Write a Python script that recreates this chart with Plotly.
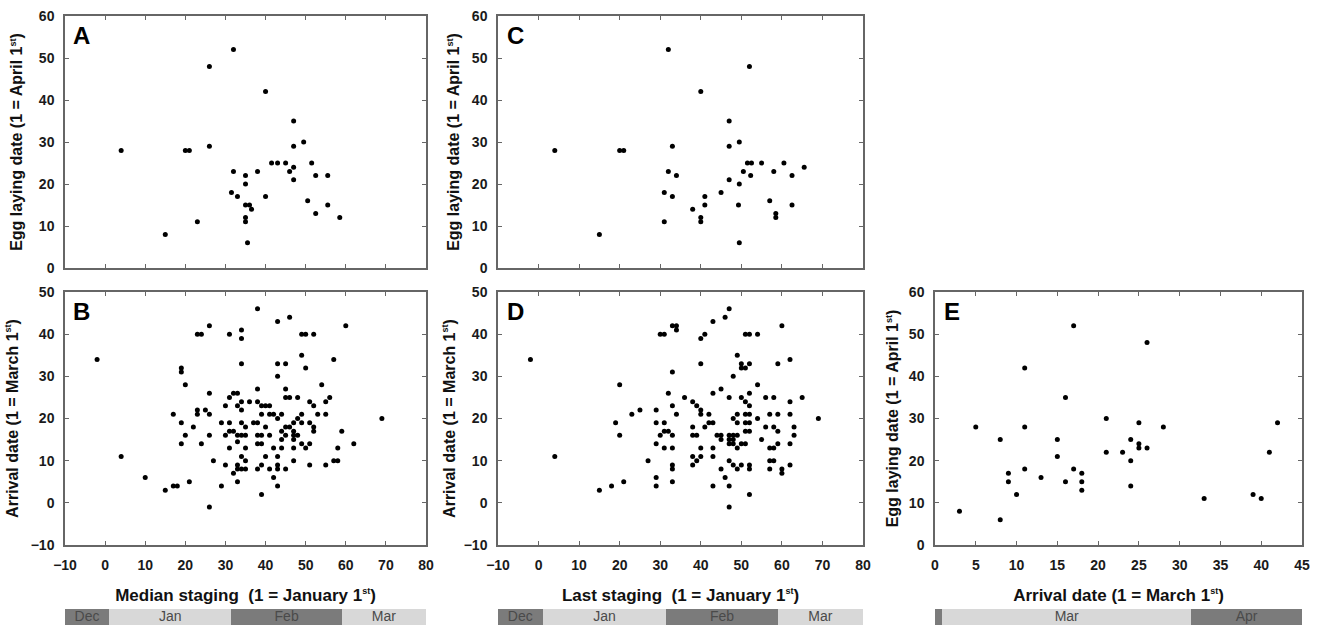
import plotly.graph_objects as go

# ---------------- data ----------------
# Panel A: median staging (day, 1 = Jan 1st) vs egg laying date (1 = April 1st)
a_points = [(4, 28), (15, 8), (20, 28), (21, 28), (23, 11), (26, 48), (26, 29), (32, 52), (32, 23),
            (31.5, 18), (33, 17), (35, 22), (35, 20), (35, 15), (36, 15), (35, 12), (35, 11), (35.5, 6),
            (36.5, 14), (38, 23), (40, 42), (40, 17), (41.5, 25), (43, 25), (45, 25), (46, 23), (47, 35),
            (47, 29), (47, 24), (47, 21), (49.5, 30), (50.5, 16), (51.5, 25), (52.5, 22), (52.5, 13),
            (55.5, 22), (55.5, 15), (58.5, 12)]

# Panel C: last staging vs egg laying date
c_points = [(4, 28), (15, 8), (20, 28), (21, 28), (31, 18), (31, 11), (32, 52), (32, 23), (33, 29),
            (33, 17), (34, 22), (38, 14), (40, 42), (40, 12), (40, 11), (41, 15), (41, 17), (45, 18),
            (47, 35), (47, 29), (47, 21), (49.5, 30), (49.5, 20), (49.3, 15), (49.5, 6), (50.5, 23),
            (51.5, 25), (52.5, 25), (52, 48), (52.3, 22), (55, 25), (57, 16), (58, 23), (58.5, 13),
            (58.5, 12), (60.5, 25), (62.5, 22), (62.5, 15), (65.5, 24)]

# Panel B: median staging vs arrival date (1 = March 1st)
b_points = [(-2, 34), (4, 11), (10, 6), (19, 32), (19, 31), (20, 28), (23, 40), (24, 40), (26, 42),
            (26, 26), (31, 40), (34, 41), (34, 39), (34, 33), (38, 46), (43, 43), (46, 44), (43, 33),
            (45, 33), (43, 30), (49, 35), (49, 40), (50, 40), (52, 40), (50, 32), (57, 34), (60, 42),
            (54, 28), (56, 25), (45, 27), (38, 27), (32, 26), (33, 26),
            (31, 25), (45, 25), (46, 25), (48, 25),
            (34, 24), (36, 24), (38, 24), (51, 24), (55, 24),
            (30, 23), (33, 23), (39, 23), (40, 23), (41, 23), (52, 23),
            (23, 22), (25, 22), (34, 22),
            (17, 21), (23, 21), (26, 21), (39, 21), (41, 21), (42, 21), (44, 21), (49, 21), (53, 21), (55, 21),
            (43, 20), (48, 20), (69, 20),
            (19, 19), (29, 19), (31, 19), (34, 19), (37, 19), (38, 19), (47, 19), (49, 19), (51, 19),
            (22, 18), (35, 18), (40, 18), (45, 18), (46, 18), (52, 18),
            (31, 17), (32, 17), (44, 17), (47, 17), (52, 17), (59, 17),
            (20, 16), (26, 16), (30, 16), (33, 16), (34, 16), (35, 16), (38, 16), (39, 16), (41, 16),
            (45, 16), (47, 16), (48, 16),
            (44, 15), (47, 15),
            (19, 14), (24, 14), (33, 14.5), (38, 14), (39, 14), (49, 14), (51, 14), (62, 14),
            (31, 13), (35, 13), (42, 13), (44, 13), (47, 13), (50, 13), (58, 13),
            (34, 11), (40, 11), (43, 11),
            (27, 10), (35, 10), (47, 10), (57, 10), (58, 10),
            (30, 9), (33, 9), (39, 9), (43, 9), (51, 9), (55, 9),
            (33, 8), (34, 8), (35, 8), (38, 8), (41, 8), (43, 8), (45, 8),
            (32, 7), (42, 6), (21, 5), (33, 5), (17, 4), (18, 4), (29, 4), (43, 4),
            (15, 3), (39, 2), (26, -1)]

# Panel D: last staging vs arrival date
d_points = [(-2, 34), (4, 11), (20, 28), (30, 40), (31, 40), (33, 42), (34, 42), (34, 41), (33, 31),
            (40, 33), (40, 39), (41, 40), (43, 43), (46, 44), (47, 46), (49, 35), (50, 33), (50, 32),
            (51, 32), (52, 33), (48, 30), (51, 40), (52, 40), (54, 40), (54, 28), (59, 33), (60, 42),
            (62, 34), (65, 25), (69, 20), (43, 26), (45, 27), (36, 25), (32, 26),
            (15, 3), (18, 4), (21, 5), (19, 19), (20, 16), (23, 21), (25, 22), (27, 10), (29, 22),
            (29, 19), (29, 14), (29, 6), (29, 4), (30, 16), (31, 13), (31, 19), (31, 17), (32, 17),
            (33, 23), (33, 16), (33, 13), (33, 9), (33, 8), (33, 5), (34, 21), (38, 24), (39, 23),
            (38, 18), (38, 16), (39, 16), (38, 11), (38, 9), (39, 10), (40, 22), (40, 21), (40, 13),
            (40, 11), (41, 18), (42, 21), (42, 19), (43, 19), (43, 13), (43, 11), (43, 4), (44, 16),
            (45, 16), (45, 15), (45, 8), (46, 6), (47, 25), (47, 16), (48, 16), (49, 16), (47, 15),
            (48, 15), (47, 14), (48, 14), (47, 10), (47, 4), (47, -1), (48, 9), (48, 20), (49, 21),
            (49, 19), (49, 13), (49, 8), (50, 25), (51, 24), (50, 9), (50, 14), (51, 14), (51, 19),
            (52, 19), (51, 17), (52, 17), (51, 21), (52, 21), (52, 26), (52, 23), (52, 9), (52, 8),
            (52, 2), (54, 20), (55, 15), (56, 25), (58, 25), (56, 18), (57, 21), (59, 21), (57, 13),
            (58, 13), (57, 10), (58, 10), (57, 8), (58, 18), (59, 17), (59, 14), (60, 8), (60, 7),
            (62, 24), (62, 21), (62, 14), (62, 9), (63, 18), (63, 16)]

# Panel E: arrival date (1 = March 1st) vs egg laying date (1 = April 1st)
e_points = [(17, 52), (26, 48), (11, 42), (16, 35), (5, 28), (8, 25), (9, 17), (9, 15), (10, 12),
            (11, 28), (11, 18), (13, 16), (15, 25), (15, 21), (16, 15), (17, 18), (18, 17), (18, 15),
            (18, 13), (21, 30), (21, 22), (23, 22), (24, 25), (24, 20), (24, 14), (25, 29), (25, 24),
            (25, 23), (26, 23), (28, 28), (33, 11), (39, 12), (40, 11), (41, 22), (42, 29), (3, 8), (8, 6)]

# month bands below the x axes (start, end in axis units)
staging_months = ["Dec", "Jan", "Feb", "Mar"]
staging_starts = [-10, 1, 31.5, 59]
staging_ends = [1, 31.5, 59, 80]
staging_shades = ["dark", "light", "dark", "light"]

arrival_months = ["Feb", "Mar", "Apr"]
arrival_starts = [0, 0.9, 31.4]
arrival_ends = [0.9, 31.4, 45]
arrival_shades = ["dark", "light", "dark"]
arrival_labelled = [False, True, True]

panel_letters = ["A", "B", "C", "D", "E"]

# ---------------- style ----------------
W, H = 1318, 625
FONT = "Liberation Sans, Arial, sans-serif"
LINE = "#666666"
SHADE = {"dark": "#7b7b7b", "light": "#d8d8d8"}
ST = "<sup><span style='font-size:9px'>st</span></sup>"


def xd(a, b):
    return [a / W, b / W]


def yd(top, bottom):
    return [1 - bottom / H, 1 - top / H]


colA, colC, colE = xd(65, 426), xd(498, 863), xd(935, 1302)
rowT, rowB, rowBar = yd(16, 268), yd(292, 545), yd(609, 625)

fig = go.Figure()


def scatter(points, xa, ya):
    fig.add_trace(go.Scatter(
        x=[p[0] for p in points], y=[p[1] for p in points],
        mode="markers", xaxis=xa, yaxis=ya,
        marker=dict(color="black", size=5, line=dict(width=0)),
        showlegend=False, hoverinfo="skip", cliponaxis=False))


scatter(a_points, "x", "y")
scatter(b_points, "x2", "y2")
scatter(c_points, "x3", "y3")
scatter(d_points, "x4", "y4")
scatter(e_points, "x5", "y5")


def month_bar(months, starts, ends, shades, xa, ya, labelled=None):
    if labelled is None:
        labelled = [True] * len(months)
    fig.add_trace(go.Bar(
        y=[0.5] * len(months), base=starts,
        x=[e - s for s, e in zip(starts, ends)],
        orientation="h", width=1, xaxis=xa, yaxis=ya,
        marker=dict(color=[SHADE[s] for s in shades], line=dict(width=0)),
        showlegend=False, hoverinfo="skip"))
    idx = [i for i, keep in enumerate(labelled) if keep]
    fig.add_trace(go.Scatter(
        x=[(starts[i] + ends[i]) / 2 for i in idx], y=[0.5] * len(idx),
        text=[months[i] for i in idx], mode="text", xaxis=xa, yaxis=ya,
        textfont=dict(family="Liberation Sans Narrow, " + FONT, size=14, color="#4a4a4a"),
        showlegend=False, hoverinfo="skip", cliponaxis=False))


month_bar(staging_months, staging_starts, staging_ends, staging_shades, "x6", "y6")
month_bar(staging_months, staging_starts, staging_ends, staging_shades, "x7", "y7")
month_bar(arrival_months, arrival_starts, arrival_ends, arrival_shades, "x8", "y8", arrival_labelled)

tickfont = dict(family=FONT, size=14, color="#1a1a1a", weight="bold")
ytitlefont = dict(family=FONT, size=16, color="#111111", weight="bold")
xtitlefont = dict(family=FONT, size=17, color="#111111", weight="bold")


def ax(domain, rng, dtick, anchor, labels=True, title=None, standoff=10, tfont=None):
    d = dict(domain=domain, range=rng, dtick=dtick, tick0=0, anchor=anchor,
             showline=True, linecolor=LINE, linewidth=1.5, mirror="ticks",
             ticks="inside", ticklen=4, tickwidth=1.2, tickcolor=LINE,
             showgrid=False, zeroline=False, showticklabels=labels,
             tickfont=tickfont, ticklabelstandoff=6, automargin=False, fixedrange=True)
    if title:
        d["title"] = dict(text=title, font=tfont or ytitlefont, standoff=standoff)
    return d


egg_title = "Egg laying date (1 = April 1" + ST + ")"
arr_title = "Arrival date (1 = March 1" + ST + ")"

fig.update_layout(
    width=W, height=H, margin=dict(l=0, r=0, t=0, b=0),
    paper_bgcolor="white", plot_bgcolor="white", template="none",
    showlegend=False, bargap=0,
    xaxis=ax(colA, [-10, 80], 10, "y", labels=False),
    yaxis=ax(rowT, [0, 60], 10, "x", title=egg_title, standoff=12),
    xaxis2=ax(colA, [-10, 80], 10, "y2", title="Median staging  (1 = January 1" + ST + ")",
              standoff=18, tfont=xtitlefont),
    yaxis2=ax(rowB, [-10, 50], 10, "x2", title=arr_title, standoff=8),
    xaxis3=ax(colC, [-10, 80], 10, "y3", labels=False),
    yaxis3=ax(rowT, [0, 60], 10, "x3", title=egg_title, standoff=8),
    xaxis4=ax(colC, [-10, 80], 10, "y4", title="Last staging  (1 = January 1" + ST + ")",
              standoff=18, tfont=xtitlefont),
    yaxis4=ax(rowB, [-10, 50], 10, "x4", title=arr_title, standoff=4),
    xaxis5=ax(colE, [0, 45], 5, "y5", title="Arrival date (1 = March 1" + ST + ")",
              standoff=18, tfont=xtitlefont),
    yaxis5=ax(rowB, [0, 60], 10, "x5", title=egg_title, standoff=6),
    xaxis6=dict(domain=colA, range=[-10, 80], anchor="y6", visible=False, fixedrange=True),
    yaxis6=dict(domain=rowBar, range=[0, 1], anchor="x6", visible=False, fixedrange=True),
    xaxis7=dict(domain=colC, range=[-10, 80], anchor="y7", visible=False, fixedrange=True),
    yaxis7=dict(domain=rowBar, range=[0, 1], anchor="x7", visible=False, fixedrange=True),
    xaxis8=dict(domain=colE, range=[0, 45], anchor="y8", visible=False, fixedrange=True),
    yaxis8=dict(domain=rowBar, range=[0, 1], anchor="x8", visible=False, fixedrange=True),
    hovermode=False,
)

letter_axes = ["x", "x2", "x3", "x4", "x5"]
for letter, xa in zip(panel_letters, letter_axes):
    ya = xa.replace("x", "y")
    fig.add_annotation(text=letter, xref=xa + " domain", yref=ya + " domain",
                       x=0.018, y=0.985, xanchor="left", yanchor="top", showarrow=False,
                       font=dict(family=FONT, size=24, color="black", weight="bold"))

fig.write_html("out.html", config={"displayModeBar": False},
               post_script="document.body.style.margin='0px';document.body.style.overflow='hidden';")
